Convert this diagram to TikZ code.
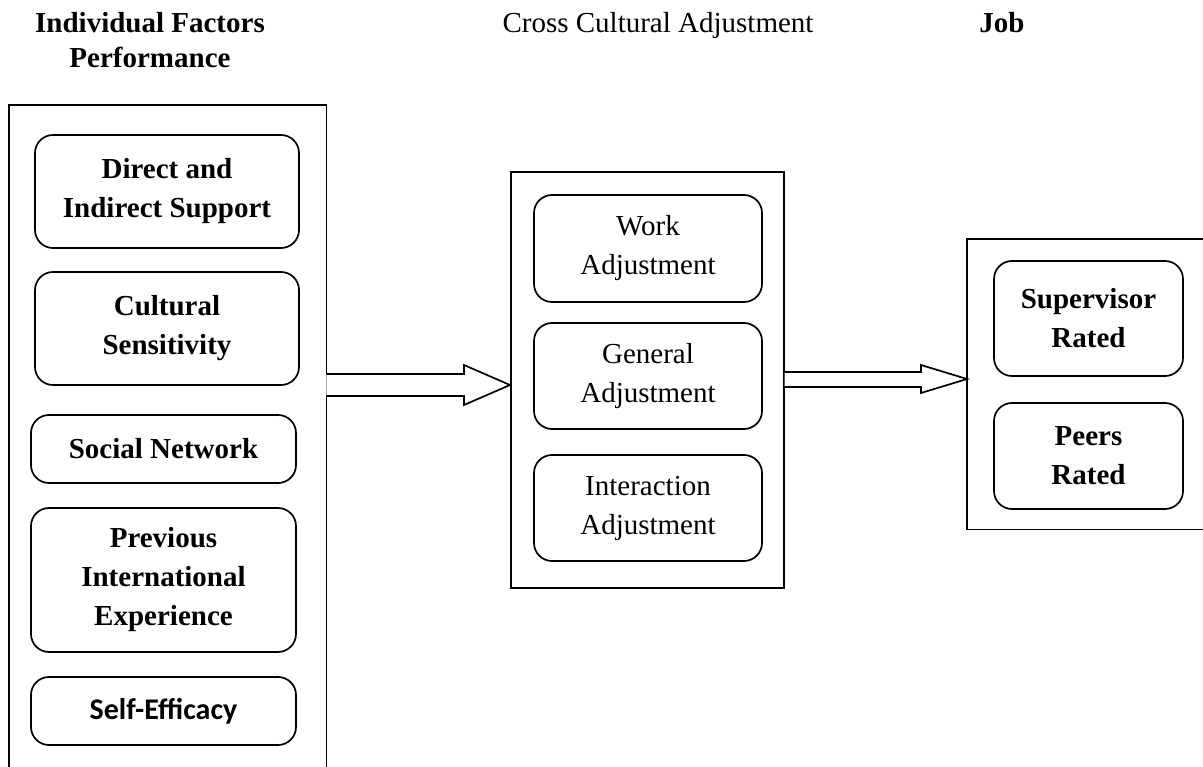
\documentclass[tikz,border=0pt]{standalone}
\usepackage{fontspec}
\setmainfont{Liberation Serif}
\newfontfamily\calib{Carlito}
\begin{document}
\begin{tikzpicture}[x=1pt,y=-1pt,
  lw/.style={line width=1.7pt},
  rbox/.style={draw,lw,rounded corners=18pt,align=center,inner sep=0pt,
    font=\fontsize{29}{39}\selectfont\bfseries},
  mbox/.style={rbox,font=\fontsize{29}{39}\selectfont},
  frame/.style={inner sep=0pt,anchor=north west},
  hdr/.style={font=\fontsize{29}{35}\selectfont\bfseries,align=center,inner sep=0pt,anchor=base},
  barrow/.style={draw,lw,fill=white,line join=miter}]
\useasboundingbox (0,0) rectangle (1203,767);
% headers
\node[hdr] (h1) at (150,33) {Individual Factors};
\node[hdr] (h1b) at (150,68) {Performance};
\node[hdr,font=\fontsize{29}{35}\selectfont] (h2) at (658,33) {Cross Cultural Adjustment};
\node[hdr] (h3) at (1002,33) {Job};
% frames
\node[frame,minimum width=317pt,minimum height=670pt] (L) at (9,105) {};
\draw[lw] (L.south west) -- (L.north west) -- (L.north east) -- (L.south east);
\node[frame,draw,lw,minimum width=273pt,minimum height=416pt] (M) at (510,171) {};
\node[frame,minimum width=245pt,minimum height=290pt] (R) at (967,239) {};
\draw[lw] (R.north east) -- (R.north west) -- (R.south west) -- (R.south east);
% left boxes
\node[rbox,minimum width=264pt,minimum height=113pt] (a1) at (167,191.5) {Direct and\\Indirect Support};
\node[rbox,minimum width=264pt,minimum height=113pt] (a2) at (167,328.5) {Cultural\\Sensitivity};
\node[rbox,minimum width=265pt,minimum height=68pt] (a3) at (163.5,449) {Social Network};
\node[rbox,minimum width=265pt,minimum height=144pt] (a4) at (163.5,580) {Previous\\International\\Experience};
\node[rbox,minimum width=265pt,minimum height=68pt,font=\fontsize{30}{36}\selectfont\calib\bfseries] (a5) at (163.5,711) {Self-Efficacy};
% middle boxes
\node[mbox,minimum width=228pt,minimum height=107pt] (b1) at (648,248.5) {Work\\Adjustment};
\node[mbox,minimum width=228pt,minimum height=106pt] (b2) at (648,376) {General\\Adjustment};
\node[mbox,minimum width=228pt,minimum height=106pt] (b3) at (648,508) {Interaction\\Adjustment};
% right boxes
\node[rbox,minimum width=189pt,minimum height=115pt] (c1) at (1088.5,318.5) {Supervisor\\Rated};
\node[rbox,minimum width=189pt,minimum height=106pt] (c2) at (1088.5,456) {Peers\\Rated};
% block arrows
\coordinate (t1) at (M.west |- 0,385);
\draw[barrow] (L.east |- 0,374) -- (464,374) -- (464,365) -- (t1) -- (464,405) -- (464,396) -- (L.east |- 0,396);
\coordinate (t2) at (R.west |- 0,379);
\draw[barrow] (M.east |- 0,372) -- (921,372) -- (921,365) -- (t2) -- (921,393) -- (921,387) -- (M.east |- 0,387);
\end{tikzpicture}
\end{document}
